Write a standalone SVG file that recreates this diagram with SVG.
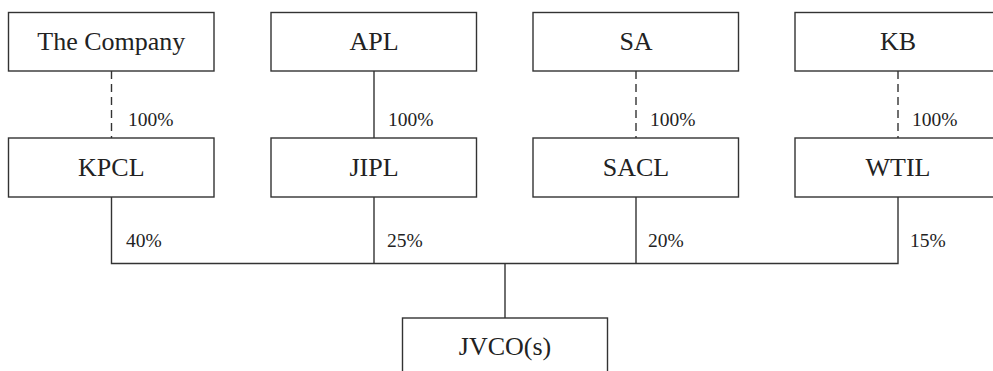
<svg xmlns="http://www.w3.org/2000/svg" width="993" height="371" viewBox="0 0 993 371">
<style>
.box{fill:#fff;stroke:#333;stroke-width:1.4}
.lbl{font-family:"Liberation Serif","Times New Roman",serif;font-size:26px;fill:#222;text-anchor:middle}
.pct{font-family:"Liberation Serif","Times New Roman",serif;font-size:19.5px;fill:#222}
.ln{stroke:#333;stroke-width:1.4;fill:none}
.dash{stroke-dasharray:8 5}
</style>
<rect width="993" height="371" fill="#fff"/>
<g id="connectors">
<line class="ln dash" x1="111.5" y1="71" x2="111.5" y2="138"/>
<line class="ln" x1="374" y1="71" x2="374" y2="138"/>
<line class="ln dash" x1="636" y1="71" x2="636" y2="138"/>
<line class="ln dash" x1="898" y1="71" x2="898" y2="138"/>
<polyline class="ln" points="111.5,197 111.5,263.5 898,263.5 898,197"/>
<line class="ln" x1="374" y1="197" x2="374" y2="263.5"/>
<line class="ln" x1="636" y1="197" x2="636" y2="263.5"/>
<line class="ln" x1="505" y1="263.5" x2="505" y2="318"/>
<text class="pct" x="128" y="126">100%</text>
<text class="pct" x="388" y="126">100%</text>
<text class="pct" x="650" y="126">100%</text>
<text class="pct" x="912" y="126">100%</text>
<text class="pct" x="126" y="247">40%</text>
<text class="pct" x="387" y="247">25%</text>
<text class="pct" x="648" y="247">20%</text>
<text class="pct" x="910" y="247">15%</text>
</g>
<g id="the-company"><rect class="box" x="8.5" y="12.5" width="205.5" height="58.5"/><text class="lbl" x="111.3" y="50">The Company</text></g>
<g id="apl"><rect class="box" x="271" y="12.5" width="205.5" height="58.5"/><text class="lbl" x="374" y="50">APL</text></g>
<g id="sa"><rect class="box" x="533" y="12.5" width="205.5" height="58.5"/><text class="lbl" x="636" y="50">SA</text></g>
<g id="kb"><rect class="box" x="795" y="12.5" width="205.5" height="58.5"/><text class="lbl" x="898" y="50">KB</text></g>
<g id="kpcl"><rect class="box" x="8.5" y="138" width="205.5" height="59"/><text class="lbl" x="111.3" y="176">KPCL</text></g>
<g id="jipl"><rect class="box" x="271" y="138" width="205.5" height="59"/><text class="lbl" x="374" y="176">JIPL</text></g>
<g id="sacl"><rect class="box" x="533" y="138" width="205.5" height="59"/><text class="lbl" x="636" y="176">SACL</text></g>
<g id="wtil"><rect class="box" x="795" y="138" width="205.5" height="59"/><text class="lbl" x="898" y="176">WTIL</text></g>
<g id="jvco"><rect class="box" x="402.5" y="318" width="205" height="70"/><text class="lbl" x="505" y="355">JVCO(s)</text></g>
</svg>
